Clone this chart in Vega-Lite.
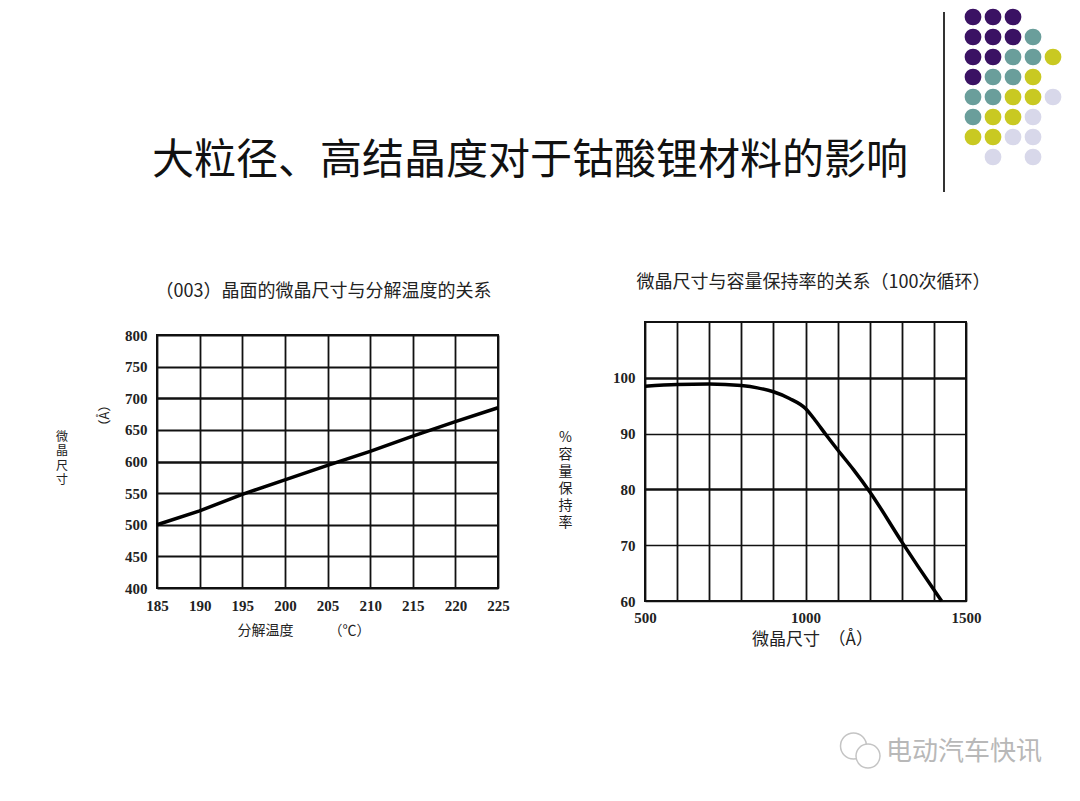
{
  "$schema": "https://vega.github.io/schema/vega-lite/v6.json",
  "padding": 0,
  "background": "white",
  "spacing": 0,
  "bounds": "flush",
  "config": {
    "font": "Noto Sans CJK SC",
    "view": {"stroke": null},
    "title": {"fontWeight": "normal", "color": "#222", "fontSize": 18}
  },
  "vconcat": [
    {
      "width": 1080,
      "height": 322,
      "layer": [
        {
          "data": {
            "values": [
              {"c": 0, "r": 0, "k": "p"}, {"c": 1, "r": 0, "k": "p"}, {"c": 2, "r": 0, "k": "p"},
              {"c": 0, "r": 1, "k": "p"}, {"c": 1, "r": 1, "k": "p"}, {"c": 2, "r": 1, "k": "p"}, {"c": 3, "r": 1, "k": "t"},
              {"c": 0, "r": 2, "k": "p"}, {"c": 1, "r": 2, "k": "p"}, {"c": 2, "r": 2, "k": "t"}, {"c": 3, "r": 2, "k": "t"}, {"c": 4, "r": 2, "k": "y"},
              {"c": 0, "r": 3, "k": "p"}, {"c": 1, "r": 3, "k": "t"}, {"c": 2, "r": 3, "k": "t"}, {"c": 3, "r": 3, "k": "y"},
              {"c": 0, "r": 4, "k": "t"}, {"c": 1, "r": 4, "k": "t"}, {"c": 2, "r": 4, "k": "y"}, {"c": 3, "r": 4, "k": "y"}, {"c": 4, "r": 4, "k": "l"},
              {"c": 0, "r": 5, "k": "t"}, {"c": 1, "r": 5, "k": "y"}, {"c": 2, "r": 5, "k": "y"}, {"c": 3, "r": 5, "k": "l"},
              {"c": 0, "r": 6, "k": "y"}, {"c": 1, "r": 6, "k": "y"}, {"c": 2, "r": 6, "k": "l"}, {"c": 3, "r": 6, "k": "l"},
              {"c": 1, "r": 7, "k": "l"}, {"c": 3, "r": 7, "k": "l"}
            ]
          },
          "mark": {"type": "point", "filled": true, "size": 280, "opacity": 1},
          "encoding": {
            "x": {"field": "c", "type": "quantitative", "scale": {"domain": [-48.65, 5.35], "nice": false, "zero": false}, "axis": null},
            "y": {"field": "r", "type": "quantitative", "scale": {"domain": [-0.85, 15.25], "nice": false, "zero": false, "reverse": true}, "axis": null},
            "color": {
              "field": "k",
              "type": "nominal",
              "scale": {"domain": ["p", "t", "y", "l"], "range": ["#3a1263", "#6a9e9b", "#c9c922", "#d8d8ea"]},
              "legend": null
            }
          }
        },
        {
          "data": {"values": [{"c": -1.45, "r0": -0.25, "r1": 8.75}]},
          "mark": {"type": "rule", "color": "#333", "strokeWidth": 2},
          "encoding": {
            "x": {"field": "c", "type": "quantitative", "scale": {"domain": [-48.65, 5.35], "nice": false, "zero": false}, "axis": null},
            "y": {"field": "r0", "type": "quantitative", "scale": {"domain": [-0.85, 15.25], "nice": false, "zero": false, "reverse": true}, "axis": null},
            "y2": {"field": "r1"}
          }
        },
        {
          "data": {"values": [{"c": -22.15, "r": 7.2, "label": "大粒径、高结晶度对于钴酸锂材料的影响"}]},
          "mark": {"type": "text", "fontSize": 42, "align": "center", "baseline": "middle", "color": "#111"},
          "encoding": {
            "x": {"field": "c", "type": "quantitative", "scale": {"domain": [-48.65, 5.35], "nice": false, "zero": false}, "axis": null},
            "y": {"field": "r", "type": "quantitative", "scale": {"domain": [-0.85, 15.25], "nice": false, "zero": false, "reverse": true}, "axis": null},
            "text": {"field": "label"}
          }
        }
      ]
    },
    {
      "hconcat": [
        {
          "width": 10,
          "height": 279,
          "data": {"values": []},
          "mark": "point"
        },
        {
          "width": 341,
          "height": 253,
          "title": {"text": "（003）晶面的微晶尺寸与分解温度的关系", "offset": 27, "dx": -4},
          "view": {"stroke": "#111", "strokeWidth": 2},
          "data": {
            "values": [
              {"temp": 185, "size": 500}, {"temp": 190, "size": 522}, {"temp": 195, "size": 548},
              {"temp": 200, "size": 571}, {"temp": 205, "size": 594}, {"temp": 210, "size": 616},
              {"temp": 215, "size": 640}, {"temp": 220, "size": 663}, {"temp": 225, "size": 685}
            ]
          },
          "layer": [
            {
              "mark": {"type": "line", "color": "#000", "strokeWidth": 3.5},
              "encoding": {
                "x": {
                  "field": "temp",
                  "type": "quantitative",
                  "scale": {"domain": [185, 225], "nice": false, "zero": false},
                  "axis": {
                    "values": [185, 190, 195, 200, 205, 210, 215, 220, 225],
                    "format": "d",
                    "title": "分解温度　　　（℃）",
                    "titleFontSize": 14,
                    "titleFontWeight": "normal",
                    "titleColor": "#222",
                    "titleX": 146.5,
                    "titleY": 42,
                    "titleAlign": "center",
                    "titleBaseline": "middle",
                    "labelFont": "Liberation Serif",
                    "labelFontSize": 15,
                    "labelFontWeight": "bold",
                    "labelColor": "#222",
                    "labelPadding": 10,
                    "labelFlush": false,
                    "labelOverlap": false,
                    "ticks": false,
                    "domain": false,
                    "grid": true,
                    "gridColor": "#111",
                    "gridOpacity": 1,
                    "gridWidth": 1.8
                  }
                },
                "y": {
                  "field": "size",
                  "type": "quantitative",
                  "scale": {"domain": [400, 800], "nice": false, "zero": false},
                  "axis": {
                    "values": [400, 450, 500, 550, 600, 650, 700, 750, 800],
                    "format": "d",
                    "title": ["微", "晶", "尺", "寸"],
                    "titleAngle": 0,
                    "titleX": -95.5,
                    "titleY": 96,
                    "titleAlign": "center",
                    "titleBaseline": "top",
                    "titleFontSize": 12,
                    "titleLineHeight": 14.5,
                    "titleFontWeight": "normal",
                    "titleColor": "#222",
                    "labelFont": "Liberation Serif",
                    "labelFontSize": 15,
                    "labelFontWeight": "bold",
                    "labelColor": "#222",
                    "labelPadding": 10,
                    "labelOverlap": false,
                    "ticks": false,
                    "domain": false,
                    "grid": true,
                    "gridColor": "#111",
                    "gridOpacity": 1,
                    "gridWidth": {"condition": {"test": "datum.value === 600 || datum.value === 700", "value": 2.6}, "value": 1.8}
                  }
                }
              }
            },
            {
              "mark": {"type": "point", "opacity": 0},
              "encoding": {
                "x": {"field": "temp", "type": "quantitative"},
                "y": {
                  "field": "size",
                  "type": "quantitative",
                  "axis": {
                    "orient": "left",
                    "title": "（Å）",
                    "titleAngle": -90,
                    "titleX": -53,
                    "titleY": 80,
                    "titleAlign": "center",
                    "titleBaseline": "middle",
                    "titleFontSize": 13,
                    "titleFontWeight": "normal",
                    "titleColor": "#222",
                    "labels": false,
                    "ticks": false,
                    "domain": false,
                    "grid": false
                  }
                }
              }
            }
          ],
          "resolve": {"axis": {"y": "independent"}}
        },
        {
          "width": 321,
          "height": 279,
          "title": {"text": "微晶尺寸与容量保持率的关系（100次循环）", "offset": 30, "dx": 8},
          "view": {"stroke": "#111", "strokeWidth": 2},
          "data": {
            "values": [
              {"crystal": 500, "retention": 98.5}, {"crystal": 600, "retention": 98.8},
              {"crystal": 700, "retention": 98.9}, {"crystal": 800, "retention": 98.6},
              {"crystal": 850, "retention": 98.2}, {"crystal": 900, "retention": 97.5},
              {"crystal": 950, "retention": 96.3}, {"crystal": 1000, "retention": 94.5},
              {"crystal": 1030, "retention": 92.4}, {"crystal": 1065, "retention": 89.7},
              {"crystal": 1100, "retention": 87.1}, {"crystal": 1150, "retention": 83.5},
              {"crystal": 1200, "retention": 79.6}, {"crystal": 1300, "retention": 70.6},
              {"crystal": 1400, "retention": 62.0}, {"crystal": 1424, "retention": 60}
            ]
          },
          "mark": {"type": "line", "color": "#000", "strokeWidth": 3.5, "interpolate": "monotone"},
          "encoding": {
            "x": {
              "field": "crystal",
              "type": "quantitative",
              "scale": {"domain": [500, 1500], "nice": false, "zero": false},
              "axis": {
                "values": [500, 600, 700, 800, 900, 1000, 1100, 1200, 1300, 1400, 1500],
                "format": "d",
                "labelExpr": "datum.value % 500 === 0 ? datum.label : ''",
                "title": "微晶尺寸　（Å）",
                "titleFontSize": 17,
                "titleFontWeight": "normal",
                "titleColor": "#222",
                "titleX": 167,
                "titleY": 38,
                "titleAlign": "center",
                "titleBaseline": "middle",
                "labelFont": "Liberation Serif",
                "labelFontSize": 15,
                "labelFontWeight": "bold",
                "labelColor": "#222",
                "labelPadding": 9,
                "labelFlush": false,
                "labelOverlap": false,
                "ticks": false,
                "domain": false,
                "grid": true,
                "gridColor": "#111",
                "gridOpacity": 1,
                "gridWidth": 1.8
              }
            },
            "y": {
              "field": "retention",
              "type": "quantitative",
              "scale": {"domain": [60, 110], "nice": false, "zero": false},
              "axis": {
                "values": [60, 70, 80, 90, 100],
                "format": "d",
                "title": ["%", "容", "量", "保", "持", "率"],
                "titleAngle": 0,
                "titleX": -80,
                "titleY": 108,
                "titleAlign": "center",
                "titleBaseline": "top",
                "titleFontSize": 14,
                "titleLineHeight": 17,
                "titleFontWeight": "normal",
                "titleColor": "#222",
                "labelFont": "Liberation Serif",
                "labelFontSize": 15,
                "labelFontWeight": "bold",
                "labelColor": "#222",
                "labelPadding": 10,
                "labelOverlap": false,
                "ticks": false,
                "domain": false,
                "grid": true,
                "gridColor": "#111",
                "gridOpacity": 1,
                "gridWidth": {"condition": {"test": "datum.value === 100 || datum.value === 80", "value": 2.4}, "value": 1.5}
              }
            }
          }
        }
      ],
      "spacing": 147,
      "bounds": "flush",
      "center": true
    },
    {
      "width": 1080,
      "height": 479,
      "layer": [
        {
          "data": {
            "values": [
              {"x": 42.675, "y": 21.2, "s": 676},
              {"x": 43.4, "y": 21.7, "s": 576}
            ]
          },
          "mark": {"type": "point", "shape": "circle", "filled": true, "fill": "white", "stroke": "#c4c4c4", "strokeWidth": 1.5, "opacity": 1},
          "encoding": {
            "x": {"field": "x", "type": "quantitative", "scale": {"domain": [0, 54], "nice": false, "zero": false}, "axis": null},
            "y": {"field": "y", "type": "quantitative", "scale": {"domain": [0, 23.95], "nice": false, "zero": false, "reverse": true}, "axis": null},
            "size": {"field": "s", "type": "quantitative", "scale": null, "legend": null}
          }
        },
        {
          "data": {"values": [{"x": 44.3, "y": 21.5, "label": "电动汽车快讯"}]},
          "mark": {"type": "text", "fontSize": 26, "align": "left", "baseline": "middle", "color": "#b8b8b8"},
          "encoding": {
            "x": {"field": "x", "type": "quantitative", "scale": {"domain": [0, 54], "nice": false, "zero": false}, "axis": null},
            "y": {"field": "y", "type": "quantitative", "scale": {"domain": [0, 23.95], "nice": false, "zero": false, "reverse": true}, "axis": null},
            "text": {"field": "label"}
          }
        }
      ]
    }
  ]
}
